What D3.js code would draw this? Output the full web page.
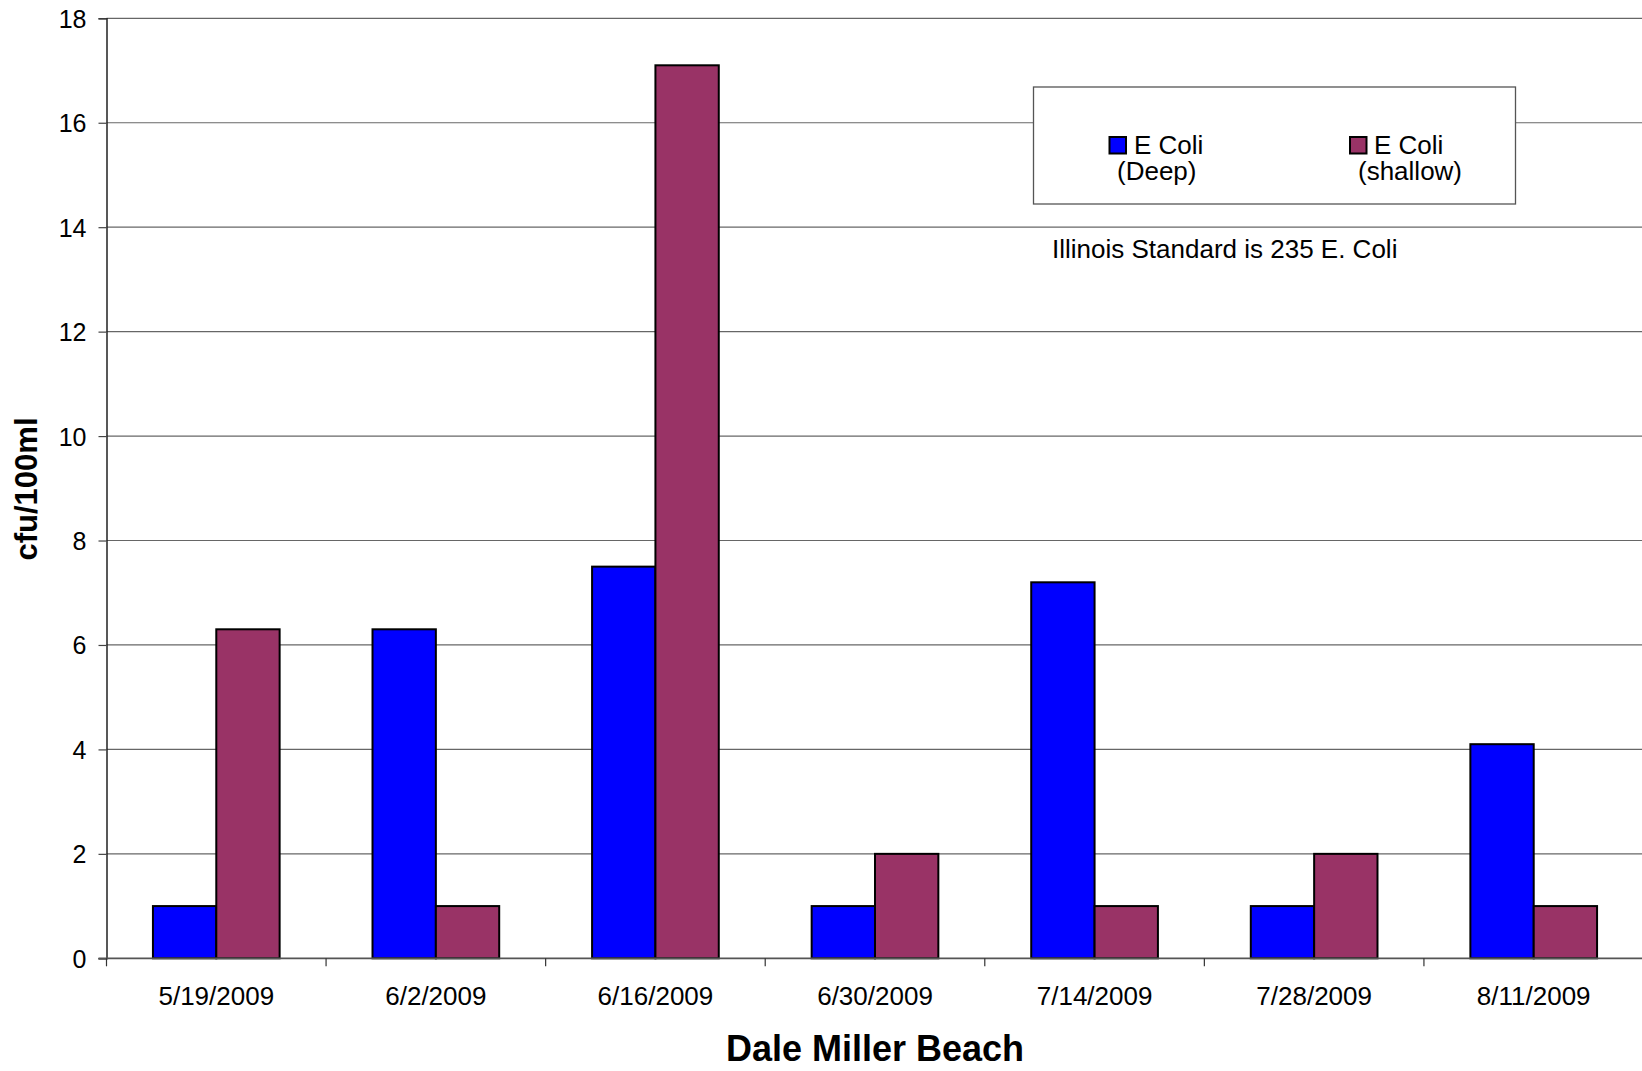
<!DOCTYPE html>
<html>
<head>
<meta charset="utf-8">
<script src="https://cdn.jsdelivr.net/npm/d3@7"></script>
<style>
  html, body { margin: 0; padding: 0; background: #fff; }
  svg { display: block; font-family: "Liberation Sans", Arial, sans-serif; }
</style>
</head>
<body>
<svg id="chart" width="1642" height="1071"></svg>
<script>
const categories = ["5/19/2009", "6/2/2009", "6/16/2009", "6/30/2009", "7/14/2009", "7/28/2009", "8/11/2009"];
const deepValues = [1, 6.3, 7.5, 1, 7.2, 1, 4.1];
const shallowValues = [6.3, 1, 17.1, 2, 1, 2, 1];
const seriesNames = ["E Coli (Deep)", "E Coli (shallow)"];
const seriesColors = ["#0000FF", "#993366"];
const yTicks = [0, 2, 4, 6, 8, 10, 12, 14, 16, 18];

const svg = d3.select("#chart");
const margin = { left: 106.5, right: 1643.5, top: 18.3, bottom: 958.3 };

const x = d3.scaleBand().domain(categories).range([margin.left, margin.right]).paddingInner(0).paddingOuter(0);
const bw = x.bandwidth();
const barW = bw * 0.2885;
const groupPad = (bw - 2 * barW) / 2;
const y = d3.scaleLinear().domain([0, 18]).range([margin.bottom, margin.top]);

// gridlines
svg.append("g").selectAll("line").data(yTicks.filter(d => d > 0)).join("line")
  .attr("x1", margin.left).attr("x2", 1642)
  .attr("y1", d => y(d)).attr("y2", d => y(d))
  .attr("stroke", "#000").attr("stroke-width", 1.2).attr("stroke-opacity", 0.6);

// y axis
const yAxis = d3.axisLeft(y).tickValues(yTicks).tickSize(8).tickPadding(12).tickFormat(d3.format("d"));
const gy = svg.append("g").attr("transform", `translate(${margin.left},0)`).call(yAxis);
gy.select(".domain").attr("stroke", "#222").attr("stroke-width", 1.5);
gy.selectAll(".tick line").attr("stroke", "#444").attr("stroke-width", 1.2);
gy.selectAll(".tick text").attr("font-size", 25).attr("fill", "#000")
  .attr("font-family", "Liberation Sans, Arial, sans-serif").attr("dy", "0.36em");

// bars
const data = categories.map((c, i) => ({ c, vals: [deepValues[i], shallowValues[i]] }));
const groups = svg.append("g").selectAll("g").data(data).join("g");
groups.selectAll("rect").data(d => d.vals.map((v, k) => ({ c: d.c, v, k }))).join("rect")
  .attr("x", d => x(d.c) + groupPad + d.k * barW)
  .attr("y", d => y(d.v))
  .attr("width", barW)
  .attr("height", d => y(0) - y(d.v))
  .attr("fill", d => seriesColors[d.k])
  .attr("stroke", "#000").attr("stroke-width", 2);

// x axis
const xAxis = d3.axisBottom(x).tickSize(0).tickPadding(0).tickFormat(d => d);
const gx = svg.append("g").attr("transform", `translate(0,${margin.bottom})`).call(xAxis);
gx.select(".domain").remove();
gx.selectAll(".tick text").attr("font-size", 26).attr("fill", "#000")
  .attr("font-family", "Liberation Sans, Arial, sans-serif").attr("y", 47).attr("dy", 0);
svg.append("line").attr("x1", margin.left - 8).attr("x2", 1642)
  .attr("y1", y(0)).attr("y2", y(0)).attr("stroke", "#555").attr("stroke-width", 1.8);
// category boundary ticks
const bounds = categories.map(c => x(c));
svg.append("g").selectAll("line").data(bounds).join("line")
  .attr("x1", d => d).attr("x2", d => d)
  .attr("y1", y(0)).attr("y2", y(0) + 8)
  .attr("stroke", "#333").attr("stroke-width", 1.2);

// axis titles
svg.append("text").attr("x", (margin.left + margin.right) / 2).attr("y", 1061)
  .attr("text-anchor", "middle").attr("font-size", 36).attr("font-weight", "bold")
  .text("Dale Miller Beach");
svg.append("text").attr("transform", `translate(36.5,489) rotate(-90)`)
  .attr("text-anchor", "middle").attr("font-size", 31).attr("font-weight", "bold")
  .text("cfu/100ml");

// legend
const lg = svg.append("g");
lg.append("rect").attr("x", 1033.5).attr("y", 87).attr("width", 482).attr("height", 117)
  .attr("fill", "#fff").attr("stroke", "#555").attr("stroke-width", 1.3);
const legendItems = [
  { sx: 1109.5, l1x: 1134, l2x: 1117, l1: "E Coli", l2: "(Deep)" },
  { sx: 1350, l1x: 1374, l2x: 1358, l1: "E Coli", l2: "(shallow)" }
];
legendItems.forEach((it, i) => {
  lg.append("rect").attr("x", it.sx).attr("y", 137).attr("width", 16.5).attr("height", 16.5)
    .attr("fill", seriesColors[i]).attr("stroke", "#000").attr("stroke-width", 2);
  const t = lg.append("text").attr("font-size", 26);
  t.append("tspan").attr("x", it.l1x).attr("y", 154).text(it.l1);
  t.append("tspan").attr("x", it.l2x).attr("y", 179.5).text(it.l2);
});

svg.append("text").attr("x", 1052).attr("y", 258).attr("font-size", 26)
  .text("Illinois Standard is 235 E. Coli");
</script>
</body>
</html>
